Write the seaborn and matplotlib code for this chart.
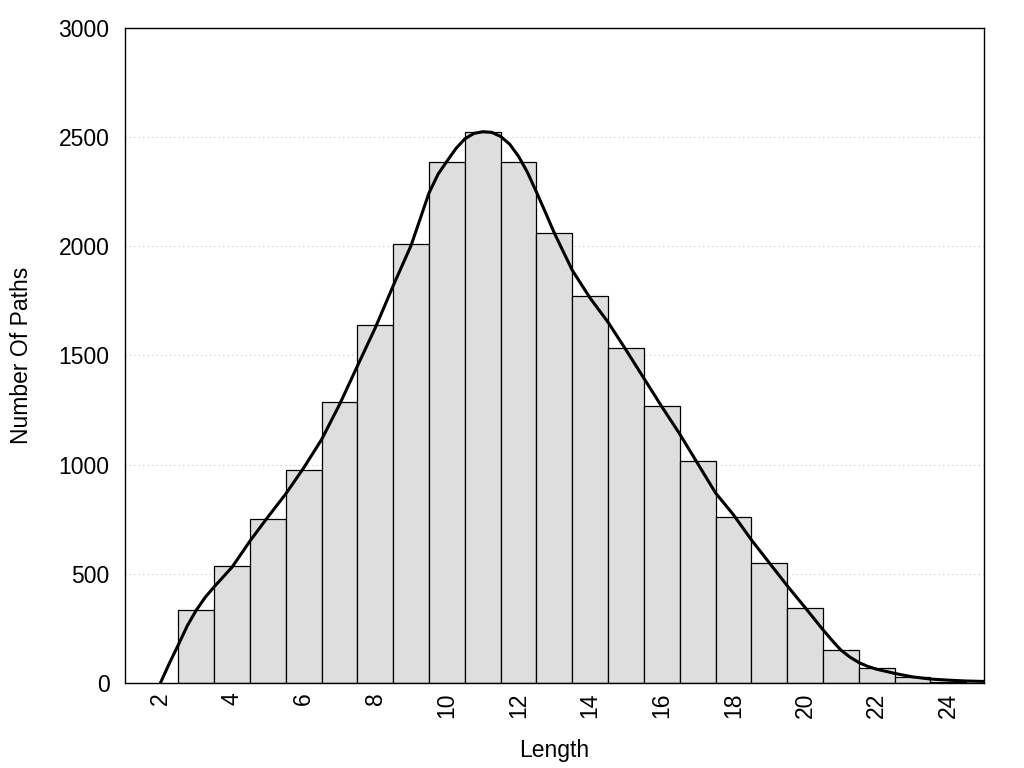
import matplotlib
matplotlib.use("Agg")
import matplotlib.pyplot as plt
import pandas as pd
import seaborn as sns

# path length histogram (counts)
lengths = [3, 4, 5, 6, 7, 8, 9, 10, 11, 12, 13, 14, 15, 16, 17, 18, 19, 20, 21, 22, 23, 24]
counts = [333, 534, 750, 974, 1286, 1638, 2012, 2387, 2524, 2387, 2063, 1770,
          1534, 1268, 1017, 761, 547, 341, 149, 67, 26, 5]

# smooth curve, sampled along the drawn line
curve_x = [2.0, 2.25, 2.5, 2.75, 3.0, 3.25, 3.5, 4.0, 4.5, 5.0, 5.5, 6.0, 6.5,
           7.0, 7.5, 8.0, 8.5, 9.0, 9.25, 9.5, 9.75, 10.0, 10.25, 10.5, 10.75,
           11.0, 11.25, 11.5, 11.75, 12.0, 12.25, 12.5, 12.75, 13.0, 13.5, 14.0,
           14.5, 15.0, 15.5, 16.0, 16.5, 17.0, 17.5, 18.0, 18.5, 19.0, 19.5,
           20.0, 20.5, 20.75, 21.0, 21.25, 21.5, 21.75, 22.0, 22.5, 23.0, 23.5,
           24.0, 24.5, 25.0]
curve_y = [0, 90, 175, 262, 333, 392, 440, 530, 650, 760, 866, 985, 1115,
           1275, 1452, 1627, 1820, 2005, 2125, 2245, 2330, 2390, 2448, 2492, 2517,
           2525, 2522, 2503, 2468, 2412, 2338, 2248, 2155, 2060, 1890, 1762,
           1652, 1525, 1395, 1265, 1140, 1005, 870, 770, 655, 550, 445,
           345, 243, 195, 150, 118, 93, 75, 62, 43, 27, 17,
           12, 8, 6]

y_ticks = [0, 500, 1000, 1500, 2000, 2500, 3000]
x_major = [2, 4, 6, 8, 10, 12, 14, 16, 18, 20, 22, 24]
x_minor = [3, 5, 7, 9, 11, 13, 15, 17, 19, 21, 23]

sns.set_style("white")
plt.rcParams["font.family"] = ["Liberation Sans", "DejaVu Sans"]
plt.rcParams["text.color"] = "black"
plt.rcParams["axes.labelcolor"] = "black"

df = pd.DataFrame({"length": lengths, "count": counts})
curve = pd.DataFrame({"x": curve_x, "y": curve_y})

fig = plt.figure(figsize=(10.24, 7.68), dpi=100)
ax = fig.add_axes([0.1218, 0.111, 0.8392, 0.8525])

sns.histplot(data=df, x="length", weights="count", discrete=True, ax=ax,
             color="#dedede", edgecolor="black", linewidth=0.9, alpha=1)
sns.lineplot(data=curve, x="x", y="y", ax=ax, color="black", linewidth=2.2)

ax.set_xlim(1, 25)
ax.set_ylim(0, 3000)
ax.set_axisbelow(True)
ax.yaxis.grid(True, linestyle=(0, (1, 3)), color="#c8c8c8", linewidth=0.8)
ax.xaxis.grid(False)

ax.set_yticks(y_ticks)
ax.set_xticks(x_major)
ax.set_xticks(x_minor, minor=True)
ax.tick_params(axis="both", which="both", direction="in", length=7, width=1,
               color="black", labelsize=16.5, labelcolor="black")
ax.tick_params(axis="x", which="major", labelrotation=90, pad=7)
ax.tick_params(axis="y", pad=11)

for side in ax.spines.values():
    side.set_color("black")
    side.set_linewidth(1)

ax.set_xlabel("Length", fontsize=16.5, labelpad=15)
ax.set_ylabel("Number Of Paths", fontsize=16.5, labelpad=18)

fig.savefig("out.png", dpi=100)
